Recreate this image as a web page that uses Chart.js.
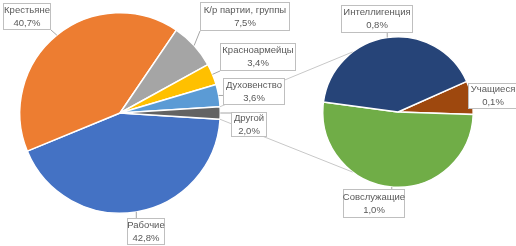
<!DOCTYPE html>
<html><head><meta charset="utf-8">
<script src="https://cdn.jsdelivr.net/npm/chart.js@4/dist/chart.umd.min.js"></script>
<style>
html,body{margin:0;padding:0;background:#fff;}
#wrap{position:relative;width:516px;height:246px;overflow:hidden;}
canvas{position:absolute;left:0;top:0;}
</style></head><body>
<div id="wrap"><canvas id="c1" width="516" height="246"></canvas><canvas id="c2" width="516" height="246"></canvas></div>
<script>
// ---- data ----
const mainLabels = ['Рабочие', 'Крестьяне', 'К/р партии, группы', 'Красноармейцы', 'Духовенство', 'Другой'];
const mainValues = [42.8, 40.7, 7.5, 3.4, 3.6, 2.0];
const otherLabels = ['Учащиеся', 'Совслужащие', 'Интеллигенция'];
const otherValues = [0.14, 1.0, 0.8];

// ---- styles / layout ----
const mainColors = ['#4472C4', '#ED7D31', '#A5A5A5', '#FFC000', '#5B9BD5', '#636363'];
const otherColors = ['#9E480E', '#70AD47', '#264478'];
const mainBoxes = [[127,218,38,27],[3,3,48,27],[200,2,90,29],[220,43,76,28],[223,78,62,27],[231,112,36,25]];
const otherBoxes = [[468,83,50,26],[343,189,62,29],[341,5,72,28]];
const FONT = '9.5px "Liberation Sans", Arial, sans-serif';

function fmt(v){ return v.toFixed(1).replace('.', ',') + '%'; }

const otherShareDeg = mainValues[mainValues.length-1] / mainValues.reduce((a,b)=>a+b,0) * 360;

const leftChart = new Chart(document.getElementById('c1'), {
  type: 'pie',
  data: { labels: mainLabels, datasets: [{ data: mainValues, backgroundColor: mainColors, borderColor: '#ffffff', borderWidth: 1.5 }] },
  options: {
    responsive: false, animation: false, devicePixelRatio: 1,
    rotation: 90 + otherShareDeg / 2,
    layout: { padding: { left: 19, top: 12, right: 295, bottom: 32 } },
    plugins: { legend: { display: false }, tooltip: { enabled: false } },
    events: []
  }
});

function drawLabels(ctx, arcs, labels, values, boxes){
  arcs.forEach((arc, i) => {
    const p = arc.getProps(['x','y','startAngle','endAngle','outerRadius'], true);
    const mid = (p.startAngle + p.endAngle) / 2;
    const ax = p.x + p.outerRadius * Math.cos(mid);
    const ay = p.y + p.outerRadius * Math.sin(mid);
    const [bx, by, bw, bh] = boxes[i];
    const nx = Math.min(Math.max(ax, bx), bx + bw);
    const ny = Math.min(Math.max(ay, by), by + bh);
    if (Math.hypot(nx - ax, ny - ay) > 2) {
      ctx.strokeStyle = '#a6a6a6'; ctx.lineWidth = 1;
      ctx.beginPath(); ctx.moveTo(ax, ay); ctx.lineTo(nx, ny); ctx.stroke();
    }
  });
  arcs.forEach((arc, i) => {
    const [bx, by, bw, bh] = boxes[i];
    ctx.fillStyle = '#ffffff';
    ctx.fillRect(bx, by, bw, bh);
    ctx.strokeStyle = '#bfbfbf'; ctx.lineWidth = 1;
    ctx.strokeRect(bx + 0.5, by + 0.5, bw - 1, bh - 1);
    ctx.fillStyle = '#595959';
    ctx.font = FONT; ctx.textAlign = 'center'; ctx.textBaseline = 'middle';
    const cx = bx + bw / 2, cy = by + bh / 2;
    ctx.fillText(labels[i], cx, cy - 6.5);
    ctx.fillText(fmt(values[i]), cx, cy + 6.5);
  });
}

const overlay = {
  id: 'overlay',
  afterDraw(chart){
    const ctx = chart.ctx;
    const lArcs = leftChart.getDatasetMeta(0).data;
    const rArcs = chart.getDatasetMeta(0).data;
    const o = lArcs[lArcs.length - 1].getProps(['x','y','startAngle','endAngle','outerRadius'], true);
    const r = rArcs[0].getProps(['x','y','outerRadius'], true);
    ctx.save();
    ctx.strokeStyle = '#c8c8c8'; ctx.lineWidth = 1;
    const ends = [[o.startAngle, 233 * Math.PI / 180], [o.endAngle, 127 * Math.PI / 180]];
    ends.forEach(([a1, a2]) => {
      ctx.beginPath();
      ctx.moveTo(o.x + o.outerRadius * Math.cos(a1), o.y + o.outerRadius * Math.sin(a1));
      ctx.lineTo(r.x + r.outerRadius * Math.cos(a2), r.y + r.outerRadius * Math.sin(a2));
      ctx.stroke();
    });
    drawLabels(ctx, lArcs, mainLabels, mainValues, mainBoxes);
    drawLabels(ctx, rArcs, otherLabels, otherValues, otherBoxes);
    ctx.restore();
  }
};

new Chart(document.getElementById('c2'), {
  type: 'pie',
  data: { labels: otherLabels, datasets: [{ data: otherValues, backgroundColor: otherColors, borderColor: '#ffffff', borderWidth: 1.5 }] },
  options: {
    responsive: false, animation: false, devicePixelRatio: 1,
    rotation: 66,
    layout: { padding: { left: 322, top: 36, right: 42, bottom: 58 } },
    plugins: { legend: { display: false }, tooltip: { enabled: false } },
    events: []
  },
  plugins: [overlay]
});
</script>
</body></html>
